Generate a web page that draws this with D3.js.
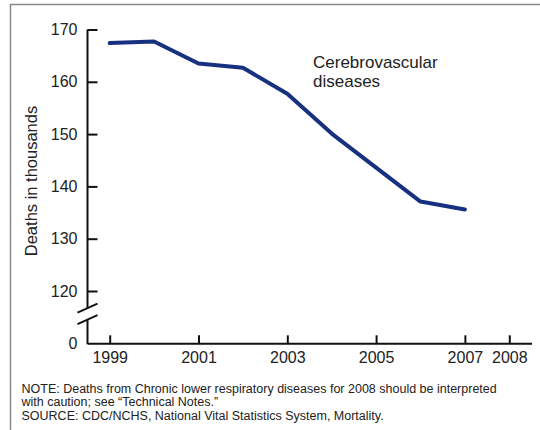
<!DOCTYPE html>
<html>
<head>
<meta charset="utf-8">
<script src="https://cdn.jsdelivr.net/npm/d3@7"></script>
<style>
  html, body { margin: 0; padding: 0; background: #fff; }
  svg { display: block; font-family: "Liberation Sans", Arial, Helvetica, sans-serif; }
</style>
</head>
<body>
<svg id="chart" width="540" height="430"></svg>
<script>
// data (thousands of deaths)
const years = [1999, 2000, 2001, 2002, 2003, 2004, 2005, 2006, 2007];
const deaths = [167.4, 167.7, 163.5, 162.7, 157.7, 150.1, 143.6, 137.1, 135.6];

const xTickValues = [1999, 2001, 2003, 2005, 2007, 2008];
// the bottom tick stands for 0, the axis is broken below 120
const yTickValues = [110, 120, 130, 140, 150, 160, 170];
const yTickLabels = ["0", "120", "130", "140", "150", "160", "170"];

const noteLines = [
  "NOTE: Deaths from Chronic lower respiratory diseases for 2008 should be interpreted",
  "with caution; see \u201cTechnical Notes.\u201d",
  "SOURCE: CDC/NCHS, National Vital Statistics System, Mortality."
];

const svg = d3.select("#chart");

// outer frame, runs off the right and bottom edges
svg.append("rect")
  .attr("x", 10.5)
  .attr("y", 4.5)
  .attr("width", 540)
  .attr("height", 440)
  .attr("fill", "none")
  .attr("stroke", "#8a8a8a")
  .attr("stroke-width", 1.5);

const x = d3.scaleLinear()
  .domain([1998.5, 2008.5])
  .range([87.5, 531.5]);

const y = d3.scaleLinear()
  .domain([110, 170])
  .range([343.3, 29.5]);

// x axis
const xAxisg = svg.append("g")
  .attr("transform", `translate(0,${y(110)})`)
  .call(d3.axisBottom(x)
    .tickValues(xTickValues)
    .tickFormat(d3.format("d"))
    .tickSizeInner(-8)
    .tickSizeOuter(0)
    .tickPadding(8));

xAxisg.select(".domain").attr("stroke", "#111").attr("stroke-width", 2);
xAxisg.selectAll(".tick line").attr("stroke", "#111").attr("stroke-width", 2);
xAxisg.selectAll("text")
  .attr("font-size", "16px")
  .attr("fill", "#222")
  .attr("font-family", null);

// y axis
const yAxisg = svg.append("g")
  .attr("transform", `translate(${x.range()[0]},0)`)
  .call(d3.axisLeft(y)
    .tickValues(yTickValues)
    .tickFormat((d, i) => yTickLabels[i])
    .tickSizeInner(-10)
    .tickSizeOuter(0)
    .tickPadding(10));

yAxisg.select(".domain").remove();
yAxisg.selectAll(".tick line")
  .attr("stroke", "#111")
  .attr("stroke-width", 2)
  .filter(d => d === 110).remove();
yAxisg.selectAll("text")
  .attr("font-size", "16px")
  .attr("fill", "#222")
  .attr("font-family", null);

// broken y axis line
const mid = (y(110) + y(120)) / 2;
const gap = [mid - 9, mid + 2.5];

yAxisg.append("line")
  .attr("x1", 0).attr("x2", 0)
  .attr("y1", y(170)).attr("y2", gap[0])
  .attr("stroke", "#111").attr("stroke-width", 2);
yAxisg.append("line")
  .attr("x1", 0).attr("x2", 0)
  .attr("y1", gap[1]).attr("y2", y(110) + 1)
  .attr("stroke", "#111").attr("stroke-width", 2);

yAxisg.selectAll(".brk")
  .data(gap)
  .enter()
  .append("line")
  .attr("class", "brk")
  .attr("x1", -10).attr("y1", d => d + 4.5)
  .attr("x2", 10).attr("y2", d => d - 4.5)
  .attr("stroke", "#111")
  .attr("stroke-width", 2);

// y axis title
svg.append("text")
  .attr("transform", `translate(37,181) rotate(-90)`)
  .attr("text-anchor", "middle")
  .attr("font-size", "16.5px")
  .attr("fill", "#222")
  .text("Deaths in thousands");

// the series
const line = d3.line()
  .x((d, i) => x(years[i]))
  .y(d => y(d));

svg.append("path")
  .datum(deaths)
  .attr("d", line)
  .attr("fill", "none")
  .attr("stroke", "#17307f")
  .attr("stroke-width", 4)
  .attr("stroke-linejoin", "round")
  .attr("stroke-linecap", "round");

// series label
const lab = svg.append("text")
  .attr("x", 313)
  .attr("y", 68)
  .attr("font-size", "17px")
  .attr("fill", "#222");
lab.append("tspan").attr("x", 313).text("Cerebrovascular");
lab.append("tspan").attr("x", 313).attr("dy", 18.5).text("diseases");

// notes
svg.append("g")
  .selectAll("text")
  .data(noteLines)
  .enter()
  .append("text")
  .attr("x", 21.5)
  .attr("y", (d, i) => 392.5 + i * 13.8)
  .attr("font-size", "12.5px")
  .attr("fill", "#222")
  .text(d => d);
</script>
</body>
</html>
